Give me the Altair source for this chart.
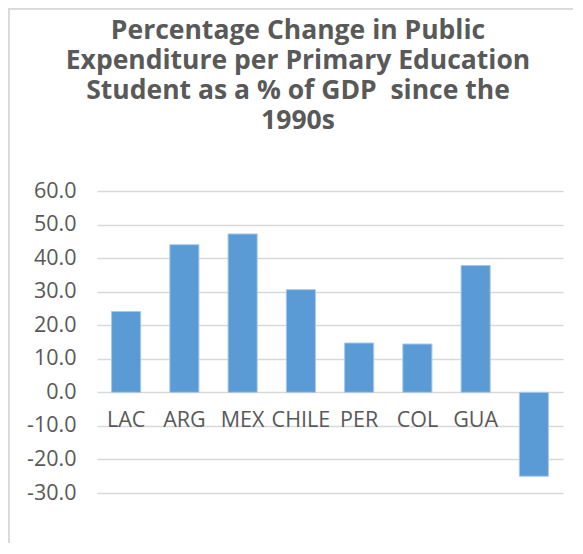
import altair as alt
import pandas as pd

categories = ["LAC", "ARG", "MEX", "CHILE", "PER", "COL", "GUA", ""]
values = [24.1, 44.0, 47.2, 30.6, 14.7, 14.4, 37.8, -25.0]
y_ticks = [60, 50, 40, 30, 20, 10, 0, -10, -20, -30]
title_lines = ["Percentage Change in Public", "Expenditure per Primary Education",
               "Student as a % of GDP \u00a0since the", "1990s"]

df = pd.DataFrame({"cat": categories, "value": values})

FONT = "Open Sans"
GRAY = "#595959"

x = alt.X("cat:N", sort=categories, scale=alt.Scale(paddingInner=0.5, paddingOuter=0.25),
          axis=None)

bars = alt.Chart(df).mark_bar(color="#5B9BD5", stroke="#A9C8EA", strokeWidth=1).encode(
    x=x,
    y=alt.Y("value:Q", scale=alt.Scale(domain=[-30, 60], nice=False),
            axis=alt.Axis(values=y_ticks, tickCount=len(y_ticks) + 2, title=None, ticks=False,
                          domain=False,
                          labelExpr="(datum.value < 0 ? '-' : '') + format(abs(datum.value), '.1f')",
                          labelOverlap=False, labelFontSize=21.5, labelFont=FONT, labelColor=GRAY,
                          labelPadding=21, gridColor="#D9D9D9", gridWidth=1.5)),
)

labels = alt.Chart(df).mark_text(font=FONT, fontSize=21.5, color=GRAY, baseline="middle",
                                 align="center", dy=29).encode(
    x=x,
    y=alt.datum(0),
    text="cat:N",
)

border = alt.Chart(df).mark_rect(fill=None, stroke="#D9D9D9", strokeWidth=1.5).encode(
    x=alt.value(-88.5), y=alt.value(-182.5), x2=alt.value(700), y2=alt.value(700)
)

chart = alt.layer(border, bars, labels).properties(
    width=466, height=302,
    title=alt.TitleParams(text=title_lines, anchor="middle", dx=-32, fontSize=26.5, font=FONT,
                          fontWeight="bold", color=GRAY, lineHeight=30, offset=-127),
    padding={"left": 89, "top": 183, "right": 10, "bottom": 50},
    autosize=alt.AutoSizeParams(type="none"),
).configure_view(stroke=None)

chart.save("out.html", embed_options={"renderer": "svg", "actions": False})
